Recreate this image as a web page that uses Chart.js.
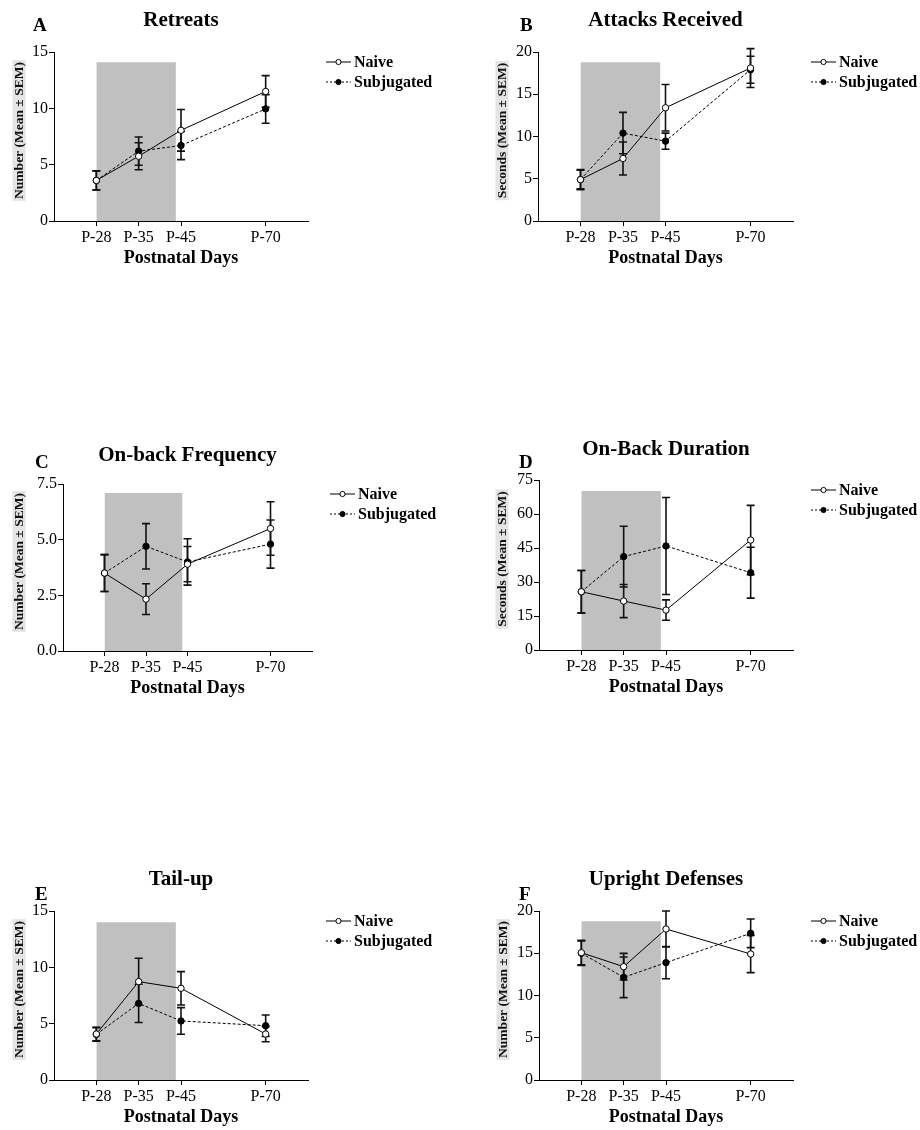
<!DOCTYPE html>
<html>
<head>
<meta charset="utf-8">
<script src="https://cdn.jsdelivr.net/npm/chart.js@4.4.1/dist/chart.umd.min.js"></script>
<style>
  body { margin: 0; background: #fff; }
  #wrap { position: relative; width: 920px; height: 1130px; }
  .panel { position: absolute; width: 460px; height: 270px; }
</style>
</head>
<body>
<div id="wrap"></div>
<script>
// x categories (postnatal days) and their slot on the gapped axis
const dayLabels = ["P-28", "P-35", "P-45", "P-70"];
const dayPos = [1, 2, 3, 5];

const panelTitles = ["Retreats", "Attacks Received", "On-back Frequency", "On-Back Duration", "Tail-up", "Upright Defenses"];
const panelLetters = ["A", "B", "C", "D", "E", "F"];
const yTitles = [
  "Number (Mean ± SEM)",
  "Seconds (Mean ± SEM)",
  "Number (Mean ± SEM)",
  "Seconds (Mean ± SEM)",
  "Number (Mean ± SEM)",
  "Number (Mean ± SEM)",
];
const yMax = [15, 20, 7.5, 75, 15, 20];
const yStep = [5, 5, 2.5, 15, 5, 5];

// grey shaded period (P-28 .. just before P-45)
const shadeStart = 1;
const shadeEnd = 2.88;
const shadeTop = [14.1, 18.8, 7.1, 70.1, 14.0, 18.8];

// A - Retreats
const retreatsNaive = [3.6, 5.75, 8.05, 11.5];
const retreatsNaiveSem = [0.85, 1.2, 1.85, 1.4];
const retreatsSubj = [3.6, 6.2, 6.7, 9.95];
const retreatsSubjSem = [0.85, 1.25, 1.25, 1.27];

// B - Attacks Received
const attacksNaive = [4.9, 7.4, 13.4, 18.1];
const attacksNaiveSem = [1.2, 1.95, 2.75, 2.3];
const attacksSubj = [4.9, 10.4, 9.45, 17.9];
const attacksSubjSem = [1.1, 2.45, 0.95, 1.6];

// C - On-back Frequency
const onbackFreqNaive = [3.5, 2.33, 3.9, 5.5];
const onbackFreqNaiveSem = [0.83, 0.69, 0.79, 1.2];
const onbackFreqSubj = [3.5, 4.7, 4.0, 4.8];
const onbackFreqSubjSem = [0.83, 1.02, 1.04, 1.08];

// D - On-Back Duration
const onbackDurNaive = [25.7, 21.6, 17.6, 48.5];
const onbackDurNaiveSem = [9.4, 7.3, 4.5, 15.3];
const onbackDurSubj = [25.7, 41.2, 45.9, 34.1];
const onbackDurSubjSem = [9.4, 13.4, 21.4, 11.2];

// E - Tail-up
const tailupNaive = [4.08, 8.73, 8.14, 4.08];
const tailupNaiveSem = [0.6, 2.07, 1.48, 0.68];
const tailupSubj = [4.05, 6.8, 5.24, 4.82];
const tailupSubjSem = [0.6, 1.7, 1.18, 0.95];

// F - Upright Defenses
const uprightNaive = [15.07, 13.41, 17.87, 14.91];
const uprightNaiveSem = [1.45, 1.58, 2.13, 2.2];
const uprightSubj = [15.0, 12.15, 13.89, 17.36];
const uprightSubjSem = [1.45, 2.4, 1.9, 1.7];

const naiveSeries = [retreatsNaive, attacksNaive, onbackFreqNaive, onbackDurNaive, tailupNaive, uprightNaive];
const naiveSems = [retreatsNaiveSem, attacksNaiveSem, onbackFreqNaiveSem, onbackDurNaiveSem, tailupNaiveSem, uprightNaiveSem];
const subjSeries = [retreatsSubj, attacksSubj, onbackFreqSubj, onbackDurSubj, tailupSubj, uprightSubj];
const subjSems = [retreatsSubjSem, attacksSubjSem, onbackFreqSubjSem, onbackDurSubjSem, tailupSubjSem, uprightSubjSem];

// panel placement on the page + plot area inside each 460x270 canvas
const H = 270;
const layouts = [
  { x: 0,   y: 0,   left: 54, right: 308, top: 52, bottom: 221, letterX: 33, letterY: 31, titleY: 26, yTitleX: 19 },
  { x: 460, y: 0,   left: 78, right: 333, top: 52, bottom: 221, letterX: 60, letterY: 31, titleY: 26, yTitleX: 42 },
  { x: 0,   y: 430, left: 63, right: 312, top: 54, bottom: 221, letterX: 35, letterY: 38, titleY: 31, yTitleX: 19 },
  { x: 460, y: 430, left: 79, right: 333, top: 50, bottom: 220, letterX: 59, letterY: 38, titleY: 25, yTitleX: 42 },
  { x: 0,   y: 860, left: 54, right: 308, top: 51, bottom: 220, letterX: 35, letterY: 40, titleY: 25, yTitleX: 19 },
  { x: 460, y: 860, left: 79, right: 333, top: 51, bottom: 220, letterX: 59, letterY: 40, titleY: 25, yTitleX: 43 },
];

const serif = "'Liberation Serif', 'Times New Roman', serif";
Chart.defaults.font.family = serif;
Chart.defaults.color = "#000";

const toPoints = (vals) => vals.map((v, i) => ({ x: dayPos[i], y: v }));

// error bars, drawn right after the grey shading so lines/markers sit on top
const errorBars = {
  id: "errorBars",
  afterDatasetDraw(chart, args) {
    if (args.index !== 0) return;
    const { ctx, scales } = chart;
    ctx.save();
    ctx.strokeStyle = "#111";
    ctx.lineWidth = 1.6;
    chart.data.datasets.forEach((ds) => {
      if (!ds.sem) return;
      ds.data.forEach((p, i) => {
        const px = scales.x.getPixelForValue(p.x);
        const hi = scales.y.getPixelForValue(p.y + ds.sem[i]);
        const lo = scales.y.getPixelForValue(p.y - ds.sem[i]);
        ctx.beginPath();
        ctx.moveTo(px, hi);
        ctx.lineTo(px, lo);
        ctx.moveTo(px - 4, hi);
        ctx.lineTo(px + 4, hi);
        ctx.moveTo(px - 4, lo);
        ctx.lineTo(px + 4, lo);
        ctx.stroke();
      });
    });
    ctx.restore();
  },
};

// title, panel letter, rotated y title with grey box, legend
const panelDecor = {
  id: "panelDecor",
  afterDraw(chart, args, opts) {
    const { ctx, chartArea } = chart;
    const L = opts.layout;
    ctx.save();
    ctx.fillStyle = "#000";

    ctx.font = `bold 21px ${serif}`;
    ctx.textAlign = "center";
    ctx.textBaseline = "alphabetic";
    ctx.fillText(opts.title, (chartArea.left + chartArea.right) / 2, L.titleY);

    ctx.font = `bold 19px ${serif}`;
    ctx.textAlign = "left";
    ctx.fillText(opts.letter, L.letterX, L.letterY);

    // y axis title
    ctx.font = `bold 13.5px ${serif}`;
    const tw = ctx.measureText(opts.yTitle).width;
    const cy = (chartArea.top + chartArea.bottom) / 2 - 6;
    ctx.translate(L.yTitleX, cy);
    ctx.rotate(-Math.PI / 2);
    ctx.fillStyle = "#e4e4e4";
    ctx.fillRect(-tw / 2 - 2, -6.5, tw + 4, 13);
    ctx.fillStyle = "#111";
    ctx.textAlign = "center";
    ctx.textBaseline = "middle";
    ctx.fillText(opts.yTitle, 0, 1);
    ctx.setTransform(1, 0, 0, 1, 0, 0);

    // legend
    const lx = chartArea.right + 18;
    const rows = [
      { label: "Naive", dash: [], fill: "#fff", y: chartArea.top + 10 },
      { label: "Subjugated", dash: [2, 2], fill: "#000", y: chartArea.top + 30 },
    ];
    rows.forEach((r) => {
      ctx.strokeStyle = "#000";
      ctx.lineWidth = 1;
      ctx.setLineDash(r.dash);
      ctx.beginPath();
      ctx.moveTo(lx, r.y);
      ctx.lineTo(lx + 25, r.y);
      ctx.stroke();
      ctx.setLineDash([]);
      ctx.beginPath();
      ctx.arc(lx + 12.5, r.y, 2.6, 0, Math.PI * 2);
      ctx.fillStyle = r.fill;
      ctx.fill();
      ctx.stroke();
      ctx.fillStyle = "#000";
      ctx.font = `bold 16px ${serif}`;
      ctx.textAlign = "left";
      ctx.textBaseline = "middle";
      ctx.fillText(r.label, lx + 28, r.y + 1);
    });
    ctx.restore();
  },
};

function buildPanel(i) {
  const L = layouts[i];
  const div = document.createElement("div");
  div.className = "panel";
  div.style.left = L.x + "px";
  div.style.top = L.y + "px";
  const canvas = document.createElement("canvas");
  canvas.width = 460;
  canvas.height = H;
  div.appendChild(canvas);
  document.getElementById("wrap").appendChild(div);

  const config = {
    type: "line",
    data: {
      datasets: [
        {
          label: "shade",
          data: [
            { x: shadeStart, y: shadeTop[i] },
            { x: shadeEnd, y: shadeTop[i] },
          ],
          fill: "origin",
          backgroundColor: "#c0c0c0",
          borderColor: "rgba(0,0,0,0)",
          borderWidth: 0,
          pointRadius: 0,
          order: 3,
        },
        {
          label: "Subjugated",
          data: toPoints(subjSeries[i]),
          sem: subjSems[i],
          borderColor: "#000",
          borderWidth: 1,
          borderDash: [3, 2],
          pointRadius: 3.2,
          pointBackgroundColor: "#000",
          pointBorderColor: "#000",
          pointBorderWidth: 1,
          fill: false,
          order: 2,
        },
        {
          label: "Naive",
          data: toPoints(naiveSeries[i]),
          sem: naiveSems[i],
          borderColor: "#000",
          borderWidth: 1,
          pointRadius: 3.2,
          pointBackgroundColor: "#fff",
          pointBorderColor: "#000",
          pointBorderWidth: 1,
          fill: false,
          order: 1,
        },
      ],
    },
    options: {
      responsive: false,
      animation: false,
      layout: {
        padding: { left: 0, top: L.top, right: 460 - L.right, bottom: 0 },
      },
      scales: {
        x: {
          type: "linear",
          min: 0,
          max: 6,
          afterBuildTicks: (s) => {
            s.ticks = dayPos.map((v) => ({ value: v }));
          },
          afterFit: (s) => {
            s.height = H - L.bottom;
          },
          ticks: {
            autoSkip: false,
            maxRotation: 0,
            padding: 2,
            color: "#000",
            font: { size: 16 },
            callback: (v) => dayLabels[dayPos.indexOf(v)],
          },
          grid: { drawOnChartArea: false, drawTicks: true, tickLength: 5, color: "#000" },
          border: { display: true, color: "#000", width: 1 },
          title: {
            display: true,
            text: "Postnatal Days",
            color: "#000",
            font: { size: 18, weight: "bold" },
            padding: { top: 0, bottom: H - (L.bottom + 37) - 10.8 },
          },
        },
        y: {
          min: 0,
          max: yMax[i],
          afterFit: (s) => {
            s.width = L.left;
          },
          ticks: {
            stepSize: yStep[i],
            padding: 1,
            color: "#000",
            font: { size: 16 },
            callback: (v) => (yStep[i] % 1 ? v.toFixed(1) : v),
          },
          grid: { drawOnChartArea: false, drawTicks: true, tickLength: 5, color: "#000" },
          border: { display: true, color: "#000", width: 1 },
        },
      },
      plugins: {
        legend: { display: false },
        tooltip: { enabled: false },
        panelDecor: {
          layout: L,
          title: panelTitles[i],
          letter: panelLetters[i],
          yTitle: yTitles[i],
        },
      },
    },
    plugins: [errorBars, panelDecor],
  };
  new Chart(canvas.getContext("2d"), config);
}

for (let i = 0; i < 6; i++) buildPanel(i);
</script>
</body>
</html>
